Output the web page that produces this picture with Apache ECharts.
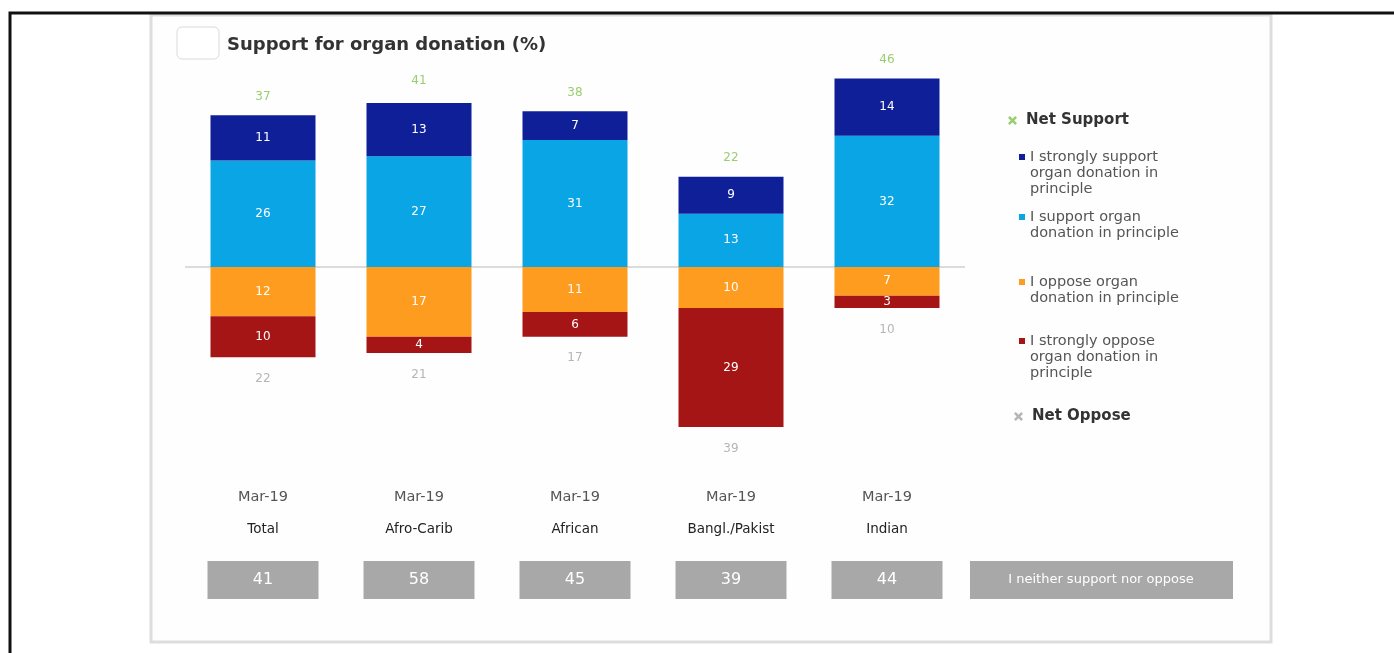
<!DOCTYPE html>
<html>
<head>
<meta charset="utf-8">
<script src="https://cdn.jsdelivr.net/npm/echarts@6/dist/echarts.min.js"></script>
<style>
  html, body { margin: 0; padding: 0; background: #ffffff; }
  #chart { width: 1394px; height: 653px; }
</style>
</head>
<body>
<div id="chart"></div>
<script>
// Survey wave and group for each column
const waves = ['Mar-19', 'Mar-19', 'Mar-19', 'Mar-19', 'Mar-19'];
const groups = ['Total', 'Afro-Carib', 'African', 'Bangl./Pakist', 'Indian'];

// Answer shares (%)
const stronglySupport = [11, 13, 7, 9, 14];
const support = [26, 27, 31, 13, 32];
const oppose = [12, 17, 11, 10, 7];
const stronglyOppose = [10, 4, 6, 29, 3];

// Net figures shown above / below each column
const netSupport = [37, 41, 38, 22, 46];
const netOppose = [22, 21, 17, 39, 10];

// "I neither support nor oppose" shares
const neither = [41, 58, 45, 39, 44];

const NAME_NS = 'Net Support';
const NAME_SS = 'I strongly support organ donation in principle';
const NAME_S = 'I support organ donation in principle';
const NAME_O = 'I oppose organ donation in principle';
const NAME_SO = 'I strongly oppose organ donation in principle';
const NAME_NO = 'Net Oppose';
const NEITHER_LABEL = 'I neither support nor oppose';

const COLORS = {
  ss: '#0f1f97',
  s: '#0aa5e4',
  o: '#fd9c1f',
  so: '#a51515',
  ns: '#7fc24a',
  no: '#a3a3a3',
  box: '#a8a8a8'
};

const FONT = 'DejaVu Sans';

// Legend wording is broken over several lines
const legendLines = {};
legendLines[NAME_SS] = ['I strongly support', 'organ donation in', 'principle'];
legendLines[NAME_S] = ['I support organ', 'donation in principle'];
legendLines[NAME_O] = ['I oppose organ', 'donation in principle'];
legendLines[NAME_SO] = ['I strongly oppose', 'organ donation in', 'principle'];

// Blank lines in front keep the first line level with the legend marker
function legendText(name) {
  const lines = legendLines[name];
  const pad = new Array(lines.length - 1).fill('');
  return pad.concat(lines).join('\n');
}

const crossIcon = 'path://M2,0L5,3L8,0L10,2L7,5L10,8L8,10L5,7L2,10L0,8L3,5L0,2Z';

const LINE_H = 16;

function wrappedLegend(name, top, color) {
  return {
    data: [{ name: name, itemStyle: { color: color } }],
    orient: 'vertical',
    left: 1019,
    top: top,
    padding: 0,
    icon: 'rect',
    itemWidth: 6,
    itemHeight: 6,
    selectedMode: false,
    formatter: legendText,
    textStyle: {
      fontFamily: FONT,
      fontSize: 14.5,
      color: '#555',
      lineHeight: LINE_H
    }
  };
}

function netLegend(name, left, top, color) {
  return {
    data: [{ name: name, itemStyle: { color: color } }],
    orient: 'vertical',
    left: left,
    top: top,
    padding: 0,
    icon: crossIcon,
    itemWidth: 9,
    itemHeight: 9,
    selectedMode: false,
    textStyle: {
      fontFamily: FONT,
      fontSize: 15,
      fontWeight: 'bold',
      color: '#333',
      padding: [0, 0, 0, 4]
    }
  };
}

const barLabel = {
  show: true,
  position: 'inside',
  color: '#ffffff',
  fontFamily: FONT,
  fontSize: 12,
  formatter: (p) => Math.abs(p.value)
};

const chart = echarts.init(document.getElementById('chart'), null, { renderer: 'canvas' });

chart.setOption({
  animation: false,
  backgroundColor: '#ffffff',
  title: {
    text: 'Support for organ donation (%)',
    left: 227,
    top: 36,
    padding: 0,
    textStyle: { fontFamily: FONT, fontSize: 18, fontWeight: 'bold', color: '#333' }
  },
  legend: [
    netLegend(NAME_NS, 1008, 113, COLORS.ns),
    wrappedLegend(NAME_SS, 117, COLORS.ss),
    wrappedLegend(NAME_S, 193, COLORS.s),
    wrappedLegend(NAME_O, 258, COLORS.o),
    wrappedLegend(NAME_SO, 301, COLORS.so),
    netLegend(NAME_NO, 1014, 409, COLORS.no)
  ],
  grid: [
    { left: 185, top: 62, width: 780, height: 410 },
    { left: 185, top: 561, width: 780, height: 38 }
  ],
  xAxis: [
    {
      type: 'category',
      gridIndex: 0,
      data: groups,
      position: 'bottom',
      axisLine: { show: false },
      axisTick: { show: false },
      axisLabel: {
        margin: 17,
        interval: 0,
        formatter: (value, idx) => '{w|' + waves[idx] + '}\n{g|' + value + '}',
        rich: {
          w: { fontFamily: FONT, fontSize: 14.5, color: '#555', lineHeight: 16 },
          g: { fontFamily: FONT, fontSize: 13.5, color: '#222', lineHeight: 48 }
        }
      }
    },
    {
      type: 'category',
      gridIndex: 1,
      data: groups,
      show: false
    }
  ],
  yAxis: [
    {
      type: 'value',
      gridIndex: 0,
      min: -50,
      max: 50,
      interval: 50,
      axisLabel: { show: false },
      axisLine: { show: false },
      axisTick: { show: false },
      splitLine: {
        show: true,
        lineStyle: { color: ['rgba(0,0,0,0)', '#dcdcdc', 'rgba(0,0,0,0)'], width: 2 }
      }
    },
    {
      type: 'category',
      gridIndex: 1,
      data: [NEITHER_LABEL],
      show: false
    }
  ],
  series: [
    {
      name: NAME_S,
      type: 'bar',
      stack: 'answers',
      barWidth: 105,
      data: support,
      itemStyle: { color: COLORS.s },
      label: barLabel
    },
    {
      name: NAME_SS,
      type: 'bar',
      stack: 'answers',
      barWidth: 105,
      data: stronglySupport,
      itemStyle: { color: COLORS.ss },
      label: barLabel
    },
    {
      name: NAME_O,
      type: 'bar',
      stack: 'answers',
      barWidth: 105,
      data: oppose.map((v) => -v),
      itemStyle: { color: COLORS.o },
      label: barLabel
    },
    {
      name: NAME_SO,
      type: 'bar',
      stack: 'answers',
      barWidth: 105,
      data: stronglyOppose.map((v) => -v),
      itemStyle: { color: COLORS.so },
      label: barLabel
    },
    {
      name: NAME_NS,
      type: 'scatter',
      data: netSupport,
      symbolSize: 1,
      itemStyle: { color: 'rgba(0,0,0,0)' },
      label: {
        show: true,
        position: 'top',
        distance: 12,
        color: COLORS.ns,
        fontFamily: FONT,
        fontSize: 12,
        formatter: (p) => p.value
      },
      z: 5
    },
    {
      name: NAME_NO,
      type: 'scatter',
      data: netOppose.map((v) => -v),
      symbolSize: 1,
      itemStyle: { color: 'rgba(0,0,0,0)' },
      label: {
        show: true,
        position: 'bottom',
        distance: 15,
        color: COLORS.no,
        fontFamily: FONT,
        fontSize: 12,
        formatter: (p) => Math.abs(p.value)
      },
      z: 5
    },
    {
      name: NEITHER_LABEL,
      type: 'scatter',
      xAxisIndex: 1,
      yAxisIndex: 1,
      symbol: 'rect',
      symbolSize: [111, 38],
      data: groups.map((g, i) => [g, NEITHER_LABEL, neither[i]]),
      itemStyle: { color: COLORS.box, opacity: 1 },
      label: {
        show: true,
        position: 'inside',
        color: '#ffffff',
        fontFamily: FONT,
        fontSize: 16,
        formatter: (p) => p.value[2]
      }
    }
  ],
  graphic: [
    {
      type: 'polyline',
      silent: true,
      z: 10,
      shape: { points: [[10, 653], [10, 13], [1394, 13]] },
      style: { stroke: '#111', lineWidth: 3, fill: null }
    },
    {
      type: 'rect',
      silent: true,
      z: -1,
      shape: { x: 151, y: 15, width: 1120, height: 627 },
      style: { fill: '#fefefe', stroke: '#dddddd', lineWidth: 3 }
    },
    {
      type: 'rect',
      silent: true,
      shape: { x: 177, y: 27, width: 42, height: 32, r: 5 },
      style: { fill: '#ffffff', stroke: '#dadada', lineWidth: 1 }
    },
    {
      type: 'rect',
      silent: true,
      shape: { x: 970, y: 561, width: 263, height: 38 },
      style: { fill: COLORS.box }
    },
    {
      type: 'text',
      silent: true,
      z: 5,
      x: 1101,
      y: 580,
      style: {
        text: NEITHER_LABEL,
        fill: '#ffffff',
        font: '13px "DejaVu Sans"',
        align: 'center',
        verticalAlign: 'middle'
      }
    }
  ]
});
</script>
</body>
</html>
